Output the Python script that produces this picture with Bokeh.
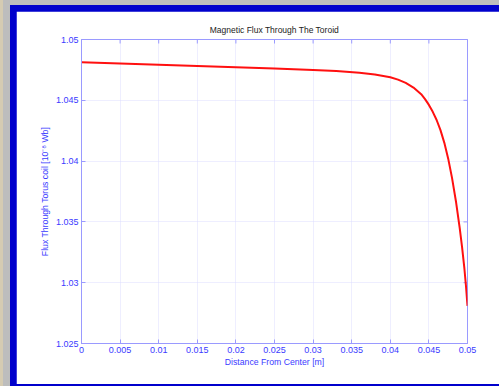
from bokeh.plotting import figure
from bokeh.layouts import column
from bokeh.models import Range1d, FixedTicker, NumeralTickFormatter
from bokeh.embed import file_html
from bokeh.resources import INLINE

# Data
distance = [0.0, 0.005, 0.01, 0.015, 0.02, 0.025, 0.03, 0.033, 0.036, 0.038,
            0.040, 0.041, 0.042, 0.043, 0.044, 0.0445, 0.045, 0.0455, 0.046,
            0.0465, 0.047, 0.0475, 0.048, 0.0485, 0.049, 0.0493, 0.0496,
            0.0498, 0.05]
flux = [1.04812, 1.04802, 1.04792, 1.04782, 1.04772, 1.04762, 1.04750, 1.04740,
        1.04726, 1.04712, 1.04690, 1.04670, 1.04643, 1.04605, 1.04550, 1.04510,
        1.04462, 1.04405, 1.04338, 1.04255, 1.04150, 1.04020, 1.03860, 1.03670,
        1.03445, 1.03290, 1.03115, 1.02975, 1.02810]

x_ticks = [0, 0.005, 0.01, 0.015, 0.02, 0.025, 0.03, 0.035, 0.04, 0.045, 0.05]
y_ticks = [1.025, 1.03, 1.035, 1.04, 1.045, 1.05]

title_text = "Magnetic Flux Through The Toroid"
x_label = "Distance From Center [m]"
y_label = "Flux Through Torus coil [10\u207b\u2078 Wb]"

AXIS_BLUE = "#9a9aff"
LABEL_BLUE = "#3a3aff"
FONT = "Liberation Sans"

W, H = 483, 373
BL, BR, BT, BB = 65, 32, 28, 41

x0, x1 = x_ticks[0], x_ticks[-1]
y0, y1 = y_ticks[0], y_ticks[-1]

p = figure(width=W, height=H,
           x_range=Range1d(x0, x1), y_range=Range1d(y0, y1),
           output_backend="svg", toolbar_location=None,
           min_border_left=BL, min_border_right=BR,
           min_border_top=BT, min_border_bottom=BB,
           background_fill_color="white", border_fill_color="white",
           outline_line_color=AXIS_BLUE, title=title_text)

p.title.align = "center"
p.title.text_font = FONT
p.title.text_font_size = "8.5px"
p.title.text_font_style = "normal"
p.title.text_color = "#222222"
p.title.standoff = 9

p.xgrid.ticker = FixedTicker(ticks=x_ticks)
p.ygrid.ticker = FixedTicker(ticks=y_ticks)
for g in (p.xgrid[0], p.ygrid[0]):
    g.grid_line_color = "#dcdcff"
    g.grid_line_dash = "1 1"
    g.grid_line_width = 1

# top and right inward tick marks (MATLAB box), length 4 px
tick_px = 4
dy = (y1 - y0) * tick_px / (H - BT - BB)
dx = (x1 - x0) * tick_px / (W - BL - BR)
p.segment(x0=x_ticks, y0=[y1] * len(x_ticks), x1=x_ticks, y1=[y1 - dy] * len(x_ticks),
          line_color=AXIS_BLUE, line_width=1)
p.segment(x0=[x1] * len(y_ticks), y0=y_ticks, x1=[x1 - dx] * len(y_ticks), y1=y_ticks,
          line_color=AXIS_BLUE, line_width=1)

p.line(distance, flux, line_color="#ff1010", line_width=2)

for ax in (p.xaxis[0], p.yaxis[0]):
    ax.axis_line_color = AXIS_BLUE
    ax.major_tick_line_color = AXIS_BLUE
    ax.major_tick_in = 4
    ax.major_tick_out = 0
    ax.minor_tick_line_color = None
    ax.major_label_text_color = LABEL_BLUE
    ax.major_label_text_font = FONT
    ax.major_label_text_font_size = "9px"
    ax.axis_label_text_color = LABEL_BLUE
    ax.axis_label_text_font = FONT
    ax.axis_label_text_font_size = "8.7px"
    ax.axis_label_text_font_style = "normal"
    ax.formatter = NumeralTickFormatter(format="0.[000]")

p.xaxis[0].ticker = FixedTicker(ticks=x_ticks)
p.yaxis[0].ticker = FixedTicker(ticks=y_ticks)
p.xaxis[0].axis_label = x_label
p.yaxis[0].axis_label = y_label
p.xaxis[0].major_label_standoff = 3
p.xaxis[0].axis_label_standoff = 1
p.yaxis[0].major_label_standoff = 3
p.yaxis[0].axis_label_standoff = 3

p.margin = (6, 0, 2, 6)
inner = column(p, styles={"background-color": "#0000cc"}, margin=(5, 0, 0, 10))
outer = column(inner, width=499, height=386,
               styles={"background": "linear-gradient(to right, #d5cbb2 0px, #d5cbb2 3px, #bdbdbd 3px)"})

html = file_html(outer, INLINE)
html = html.replace("<head>", "<head><style>body{margin:0;background:#bdbdbd;}</style>", 1)
open("out.html", "w").write(html)
